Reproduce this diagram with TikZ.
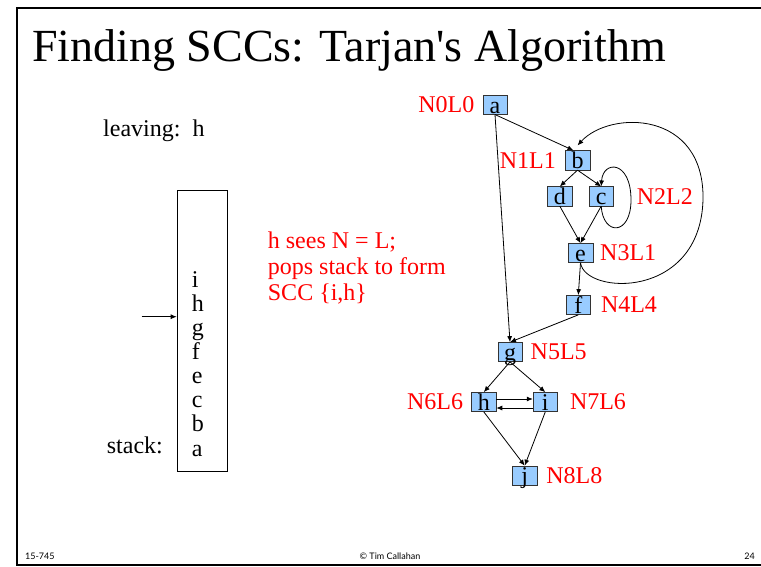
\documentclass[tikz,border=0pt]{standalone}
\usepackage{fontspec}
\setmainfont{Liberation Serif}
\newfontfamily\footfont{Lato}
\usetikzlibrary{arrows.meta,positioning}

\definecolor{vtxblue}{RGB}{153,204,255}

\tikzset{
	vtx/.style={draw=black!80, fill=vtxblue, rectangle, inner sep=0pt,
		minimum width=24.6pt, text height=18pt, text depth=1.3pt,
		font=\fontsize{24}{26}\selectfont},
	lab/.style={text=red, inner sep=0pt, font=\fontsize{24}{26}\selectfont},
	txt/.style={inner sep=0pt, font=\fontsize{24}{24.1}\selectfont},
	note/.style={text=red, inner sep=0pt, align=left, font=\fontsize{24}{26}\selectfont},
	foot/.style={inner sep=0pt, font=\footfont\fontsize{9}{10}\selectfont},
	arr/.style={line width=0.8pt, -{Latex[length=6pt,width=5pt]}}
}

\begin{document}
\begin{tikzpicture}[x=1pt, y=-1pt]
	\useasboundingbox (0,0) rectangle (761,566);
	
	% slide frame and title
	\draw[line width=2pt] (780,8.3) -- (17,8.3) -- (17,565) -- (780,565);
	\node[anchor=base west, inner sep=0pt, font=\fontsize{46}{50}\selectfont] (title) at (32,61)
		{Finding SCCs: Tarjan\textquotesingle s Algorithm};
	
	% graph
	\node[vtx] (a) at (495,104.7) {a};
	\node[vtx] (b) at (577.5,160.3) {b};
	\node[vtx] (d) at (559.8,196.3) {d};
	\node[vtx] (c) at (601.2,196.3) {c};
	\node[vtx] (e) at (580.5,253) {e};
	\node[vtx] (f) at (578.3,305) {f};
	\node[vtx] (g) at (510,352) {g};
	\node[vtx] (h) at (483.8,402) {h};
	\node[vtx] (i) at (545.3,402) {i};
	\node[vtx] (j) at (524.7,475.5) {j};
	
	\node[lab, left=8pt of a] (la) {N0L0};
	\node[lab, left=9pt of b] (lb) {N1L1};
	\node[lab, right=23pt of c] (lc) {N2L2};
	\node[lab, right=7pt of e] (le) {N3L1};
	\node[lab, right=10pt of f] (lf) {N4L4};
	\node[lab, right=8pt of g] (lg) {N5L5};
	\node[lab, left=8pt of h] (lh) {N6L6};
	\node[lab, right=12pt of i] (li) {N7L6};
	\node[lab, right=9pt of j] (lj) {N8L8};
	
	\draw[arr] (a.south) -- ([xshift=-4pt]b.north);
	\draw[arr] (a.south) -- (g.north);
	\draw[arr] (b.south) -- (d.north);
	\draw[arr] (b.south) -- (c.north);
	\draw[arr] (d.south) -- (e.north);
	\draw[arr] (c.south) -- (e.north);
	\draw[arr] (c.south) .. controls (603,236) and (631,236) .. (631,200)
		.. controls (631,160) and (603,160) .. (c.north);
	\draw[arr] (e.south) .. controls (585,295) and (700,300) .. (703,200)
		.. controls (705,110) and (610,110) .. ([yshift=5pt]b.north);
	\draw[arr] (e.south) -- (f.north);
	\draw[arr] (f.south) -- (g.north);
	\draw[arr] (g.south) -- (h.north);
	\draw[arr] (g.south) -- (i.north);
	\draw[arr] ([yshift=3pt]h.east) -- ([yshift=3pt]i.west);
	\draw[arr] ([yshift=-6pt]i.west) -- ([yshift=-6pt]h.east);
	\draw[arr] (h.south) -- (j.north);
	\draw[arr] (i.south) -- (j.north);
	
	% stack
	\node[txt, anchor=base west] (leave) at (103,136) {leaving:\ \ h};
	\node[draw, inner sep=0pt, minimum width=50.6pt, minimum height=280.7pt,
		anchor=north west] (stk) at (176.7,190) {};
	\foreach \s [count=\k] in {i,h,g,f,e,c,b,a}
		\node[txt, anchor=base west] (s\k) at (191.7,{287.3+24.1*(\k-1)}) {\s};
	\node[txt, anchor=base west] (stklab) at (106.7,453.3) {stack:};
	\coordinate (ptr) at (141.7,316.7);
	\draw[arr] (ptr) -- (ptr -| stk.west);
	
	\node[note, anchor=north west] (hint) at (267.7,232)
		{h sees N = L;\\pops stack to form\\SCC \{i,h\}};
	
	% footer
	\node[foot, anchor=base west] (fl) at (25,559) {15-745};
	\node[foot, anchor=base] (fc) at (390,559) {© Tim Callahan};
	\node[foot, anchor=base east] (fr) at (755,559) {24};
\end{tikzpicture}
\end{document}
